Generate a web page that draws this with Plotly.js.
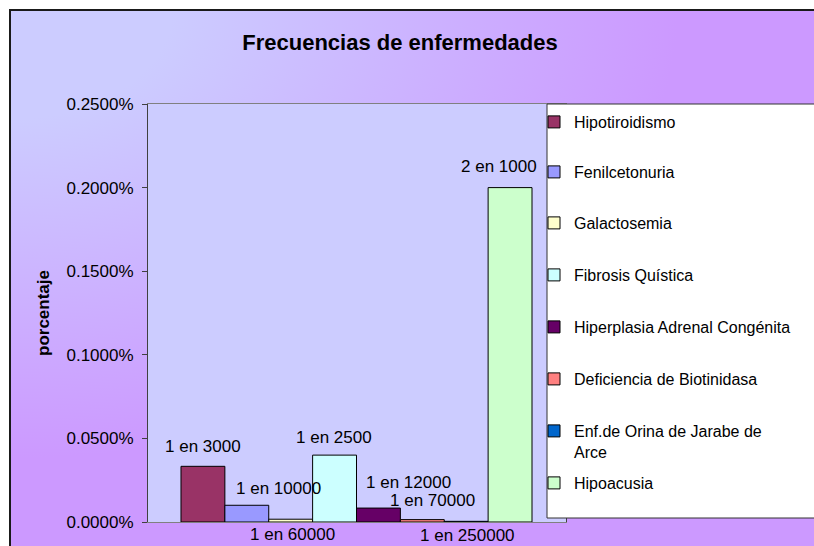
<!DOCTYPE html>
<html><head><meta charset="utf-8">
<script src="https://cdn.plot.ly/plotly-3.0.1.min.js"></script>
<style>
html,body{margin:0;padding:0;background:#fff;overflow:hidden;width:814px;height:546px;}
#bg{position:absolute;left:9px;top:9px;width:812px;height:545px;border-left:2px solid #1a1a1a;border-top:2px solid #1a1a1a;
background:radial-gradient(ellipse farthest-corner at 0 0,#ccccff 14%,#cc99ff 58%);}
#chart{position:absolute;left:0;top:0;width:814px;height:546px;}
</style></head><body>
<div id="bg"></div><div id="chart"></div>
<script>
const diseases = ["Hipotiroidismo","Fenilcetonuria","Galactosemia","Fibrosis Quística",
  "Hiperplasia Adrenal Congénita","Deficiencia de Biotinidasa","Enf.de Orina de Jarabe de<br>Arce","Hipoacusia"];
const values = [0.000333, 0.0001, 0.0000167, 0.0004, 0.0000833, 0.0000143, 0.000004, 0.002];
const labels = ["1 en 3000","1 en 10000","1 en 60000","1 en 2500","1 en 12000","1 en 70000","1 en 250000","2 en 1000"];
const colors = ["#993366","#9999ff","#ffffcc","#ccffff","#660066","#ff8080","#0066cc","#ccffcc"];
// style: label offsets in px from bar top centre
const labelShift = [[0,20],[32,17],[2,-15],[-1,18],[30,26],[10,19],[1,-14],[-11,21]];
// style: top pixel of each legend entry
const legendTops = [105, 155, 206, 258, 310, 362, 414, 466];

const FONT = "'Liberation Sans', Arial, sans-serif";
const legendId = i => (i === 0 ? 'legend' : 'legend' + (i + 1));

const traces = diseases.map((name, i) => ({
  type: 'bar', name: name, x: [i], y: [values[i]], width: 1,
  marker: {color: colors[i], line: {color: '#000', width: 1}},
  legend: legendId(i),
  hoverinfo: 'skip'
}));

const annotations = labels.map((t, i) => ({
  x: i, y: values[i], xref: 'x', yref: 'y', text: t, showarrow: false,
  xanchor: 'center', yanchor: 'middle', xshift: labelShift[i][0], yshift: labelShift[i][1],
  font: {family: FONT, size: 17, color: '#000'}
}));

const layout = {
  width: 814, height: 546, autosize: false,
  margin: {l: 148, r: 248, t: 104, b: 24, pad: 0, autoexpand: false},
  paper_bgcolor: 'rgba(0,0,0,0)', plot_bgcolor: '#ccccff',
  barmode: 'overlay',
  font: {family: FONT, color: '#000'},
  title: {text: 'Frecuencias de enfermedades', font: {family: FONT, size: 22, weight: 'bold', color: '#000'},
    xref: 'container', yref: 'container', x: 400/814, y: 1 - 42/546, xanchor: 'center', yanchor: 'middle'},
  xaxis: {range: [-1.252, 8.275], showticklabels: false, ticks: '', showgrid: false, zeroline: false,
    showline: true, linecolor: '#808080', linewidth: 1, mirror: true, fixedrange: true},
  yaxis: {range: [0, 0.0025], dtick: 0.0005, tick0: 0, tickformat: '.4%', ticks: 'outside', ticklen: 5,
    ticklabelstandoff: 5,
    tickcolor: '#404040', showline: true, linecolor: '#404040', linewidth: 1, mirror: true,
    showgrid: false, zeroline: false, fixedrange: true,
    tickfont: {family: FONT, size: 17, color: '#000'},
    title: {text: 'porcentaje', standoff: 12, font: {family: FONT, size: 17, weight: 'bold', color: '#000'}}},
  shapes: [{type: 'rect', xref: 'paper', yref: 'paper', layer: 'above',
    x0: (547-148)/418, x1: (830-148)/418, y0: (522-518)/418, y1: 1,
    fillcolor: '#ffffff', line: {color: '#333333', width: 1}}],
  annotations: annotations,
  showlegend: true
};

legendTops.forEach((top, i) => {
  layout[legendId(i)] = {
    xref: 'container', yref: 'container', xanchor: 'left', yanchor: 'top',
    x: 534/814, y: 1 - top/546,
    bgcolor: 'rgba(0,0,0,0)', borderwidth: 0, valign: 'top',
    font: {family: FONT, size: 16, color: '#000'}
  };
});

Plotly.newPlot('chart', traces, layout, {displayModeBar: false, staticPlot: true});
</script>
</body></html>
